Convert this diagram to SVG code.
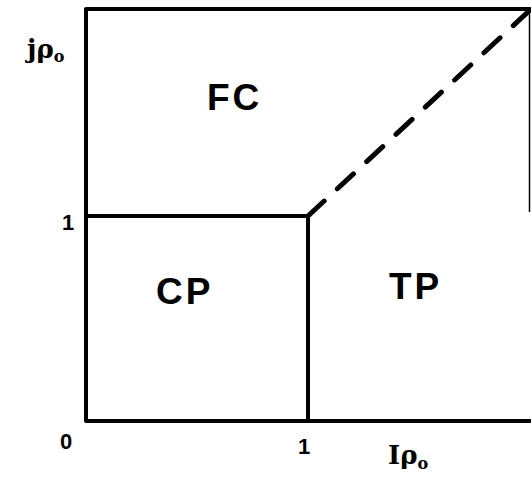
<svg xmlns="http://www.w3.org/2000/svg" width="531" height="481" viewBox="0 0 531 481">
<style>
.ln{stroke:#000;stroke-width:4;fill:none;stroke-linecap:round;stroke-linejoin:round}
.thin{stroke:#000;stroke-width:1.5;fill:none}
.dash{stroke:#000;stroke-width:5;fill:none;stroke-dasharray:22 18;stroke-linecap:round}
.reg{font-family:"Liberation Sans",Arial,sans-serif;font-weight:bold;font-size:37px;letter-spacing:3px}
.ax{font-family:"Liberation Sans",Arial,sans-serif;font-weight:bold;font-size:22px}
.sym{font-family:"DejaVu Serif","Liberation Serif",serif;font-weight:bold;font-size:26px}
</style>
<rect width="531" height="481" fill="#fff"/>
<g id="connectors">
<path class="ln" d="M86,10 L86,421 L531,421"/>
<path class="ln" d="M86,9 L530,9"/>
<path class="thin" d="M529.5,9 L529.5,212"/>
<path class="ln" d="M86,216 L308,216 L308,421"/>
<path class="dash" d="M308,216 L530,10"/>
</g>
<g id="FC"><text class="reg" x="207" y="110">FC</text></g>
<g id="CP"><text class="reg" x="156" y="304">CP</text></g>
<g id="TP"><text class="reg" x="389" y="299">TP</text></g>
<g id="labels">
<text class="sym" x="27" y="58">jρ<tspan font-size="16" dy="4">o</tspan></text>
<text class="ax" x="62" y="230">1</text>
<text class="ax" x="60" y="449">0</text>
<text class="ax" x="298" y="454">1</text>
<text class="sym" x="388" y="464">Iρ<tspan font-size="16" dy="5">o</tspan></text>
</g>
</svg>
